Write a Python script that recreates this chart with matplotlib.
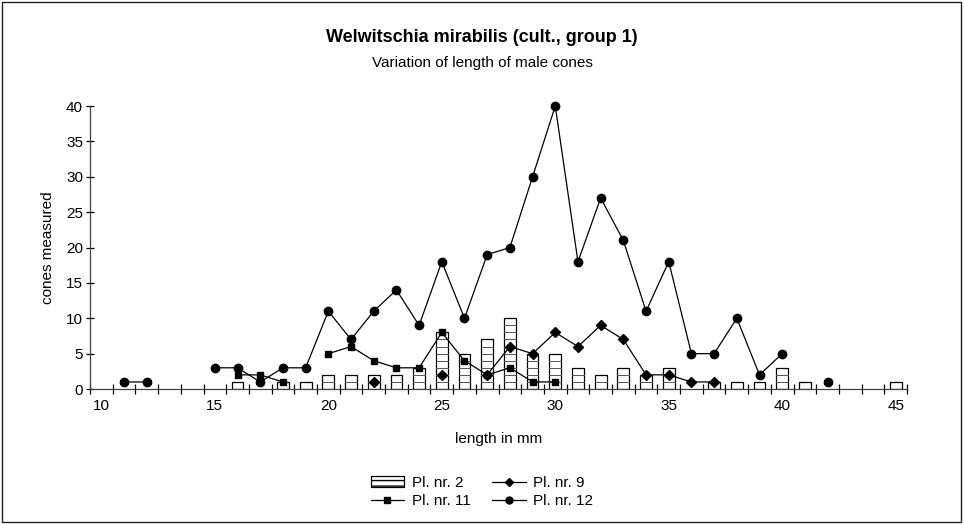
import matplotlib.pyplot as plt
import numpy as np
from matplotlib.patches import Rectangle, Patch
from matplotlib.lines import Line2D

plt.rcParams['font.family'] = ['Liberation Sans', 'DejaVu Sans']

# lengte in mm (categorie-as 10..45)
lengths = np.arange(10, 46)
nan = np.nan

# Pl. nr. 2 (staven), 0 = geen staaf
pl2 = {16: 1, 18: 1, 19: 1, 20: 2, 21: 2, 22: 2, 23: 2, 24: 3, 25: 8, 26: 5,
       27: 7, 28: 10, 29: 5, 30: 5, 31: 3, 32: 2, 33: 3, 34: 2, 35: 3, 37: 1,
       38: 1, 39: 1, 40: 3, 41: 1, 45: 1}
# lijnen, ontbrekende waarden geven een onderbreking
pl9 = {22: 1, 25: 2, 27: 2, 28: 6, 29: 5, 30: 8, 31: 6, 32: 9, 33: 7, 34: 2,
       35: 2, 36: 1, 37: 1}
pl11 = {16: 2, 17: 2, 18: 1, 20: 5, 21: 6, 22: 4, 23: 3, 24: 3, 25: 8, 26: 4,
        27: 2, 28: 3, 29: 1, 30: 1}
pl12 = {11: 1, 12: 1, 15: 3, 16: 3, 17: 1, 18: 3, 19: 3, 20: 11, 21: 7,
        22: 11, 23: 14, 24: 9, 25: 18, 26: 10, 27: 19, 28: 20, 29: 30, 30: 40,
        31: 18, 32: 27, 33: 21, 34: 11, 35: 18, 36: 5, 37: 5, 38: 10, 39: 2,
        40: 5, 42: 1}


def series(d):
    return np.array([d.get(x, nan) for x in lengths], dtype=float)


fig = plt.figure(figsize=(9.64, 5.24), dpi=100)
ax = fig.add_axes([0.0934, 0.2576, 0.8475, 0.54])

# staven met horizontale streep per eenheid
bx = np.array(list(pl2.keys()))
bh = np.array(list(pl2.values()))
ax.bar(bx, bh, width=0.52, color='white', edgecolor='black', linewidth=0.9, zorder=2)
for x, h in zip(bx, bh):
    for k in range(1, h):
        ax.plot([x - 0.26, x + 0.26], [k, k], color='#555555', lw=0.7, zorder=2)

ax.plot(lengths, series(pl9), color='black', lw=0.9, marker='D', ms=5.5,
        zorder=3, clip_on=False)
ax.plot(lengths, series(pl11), color='black', lw=0.9, marker='s', ms=4.5,
        zorder=3, clip_on=False)
ax.plot(lengths, series(pl12), color='black', lw=0.9, marker='o', ms=6,
        zorder=4, clip_on=False)

ax.set_xlim(9.5, 45.5)
ax.set_ylim(0, 40)
ax.set_xticks([10, 15, 20, 25, 30, 35, 40, 45])
ax.set_xticks(np.arange(9.5, 45.6, 1), minor=True)
ax.set_yticks(np.arange(0, 41, 5))
ax.tick_params(axis='x', which='major', length=0, labelsize=11, pad=7)
ax.tick_params(axis='x', which='minor', direction='inout', length=7, width=0.9)
ax.tick_params(axis='y', direction='inout', length=6, width=0.9, labelsize=11, pad=2)
for s in ['top', 'right']:
    ax.spines[s].set_visible(False)
for s in ['left', 'bottom']:
    ax.spines[s].set_color('#444444')
    ax.spines[s].set_linewidth(0.9)

ax.set_xlabel('length in mm', fontsize=11, labelpad=14)
ax.set_ylabel('cones measured', fontsize=11, labelpad=8)

fig.text(0.5, 1 - 37 / 524, 'Welwitschia mirabilis (cult., group 1)',
         ha='center', va='center', fontsize=13, fontweight='bold')
fig.text(0.5, 1 - 63 / 524, 'Variation of length of male cones',
         ha='center', va='center', fontsize=11)

handles = [
    Patch(facecolor='white', edgecolor='black', hatch='---', linewidth=0.9),
    Line2D([], [], color='black', lw=0.9, marker='s', ms=4),
    Line2D([], [], color='black', lw=0.9, marker='D', ms=4),
    Line2D([], [], color='black', lw=0.9, marker='o', ms=5),
]
labels = ['Pl. nr. 2', 'Pl. nr. 11', 'Pl. nr. 9', 'Pl. nr. 12']
fig.legend(handles, labels, ncol=2, frameon=False, fontsize=11,
           loc='center', bbox_to_anchor=(0.5, 1 - 492 / 524),
           handlelength=2.2, columnspacing=1.4, labelspacing=0.25, handletextpad=0.5)

fig.patches.append(Rectangle((0.002, 0.003), 0.995, 0.994, transform=fig.transFigure,
                             fill=False, edgecolor='#222222', linewidth=1))

fig.savefig('out.png', dpi=100)
